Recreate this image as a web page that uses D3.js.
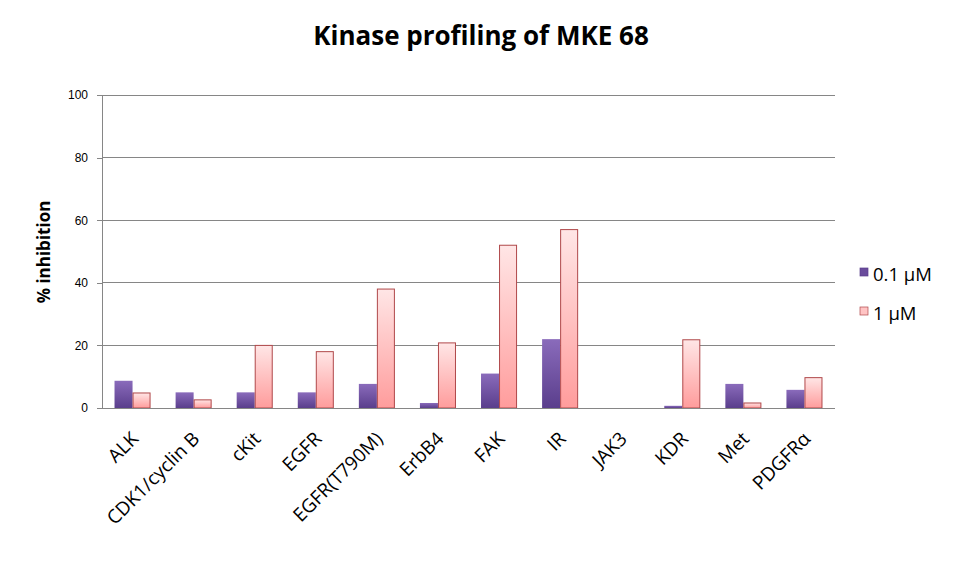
<!DOCTYPE html>
<html><head><meta charset="utf-8">
<script src="https://cdn.jsdelivr.net/npm/d3@7"></script>
<style>body{margin:0;background:#fff}svg{display:block}</style>
</head><body>
<svg id="c" width="962" height="576"></svg>
<script>
const categories = ["ALK","CDK1/cyclin B","cKit","EGFR","EGFR(T790M)","ErbB4","FAK","IR","JAK3","KDR","Met","PDGFRα"];
const series01 = [8.7, 5, 5, 5, 7.7, 1.6, 11, 22, 0, 0.7, 7.7, 5.8];
const series1 = [4.8, 2.6, 20, 18, 38, 20.8, 52, 57, 0, 21.8, 1.6, 9.7];
const seriesNames = ["0.1 μM", "1 μM"];
const yTicks = [0, 20, 40, 60, 80, 100];

const svg = d3.select("#c");
const m = {l:102, r:835, t:95, b:408};
const x = d3.scaleBand().domain(categories).range([m.l, m.r]).paddingInner(0.41).paddingOuter(0.205);
const xs = d3.scaleBand().domain([0,1]).range([0, x.bandwidth()]);
const y = d3.scaleLinear().domain([0,100]).range([m.b, m.t]);

const defs = svg.append("defs");
const g1 = defs.append("linearGradient").attr("id","gp").attr("x1",0).attr("y1",0).attr("x2",0).attr("y2",1);
g1.append("stop").attr("offset","0%").attr("stop-color","#8a6bbb");
g1.append("stop").attr("offset","100%").attr("stop-color","#5a3e8c");
const g2 = defs.append("linearGradient").attr("id","gk").attr("x1",0).attr("y1",0).attr("x2",0).attr("y2",1);
g2.append("stop").attr("offset","0%").attr("stop-color","#ffe6e6");
g2.append("stop").attr("offset","100%").attr("stop-color","#ff9c9c");

// gridlines
svg.append("g").selectAll("line").data(yTicks).join("line")
  .attr("x1", m.l).attr("x2", m.r).attr("y1", d=>y(d)).attr("y2", d=>y(d))
  .attr("stroke","#868686").attr("stroke-width",1).attr("shape-rendering","crispEdges");

// y axis
const ya = svg.append("g").attr("transform",`translate(${m.l},0)`)
  .call(d3.axisLeft(y).tickValues(yTicks).tickSize(5).tickPadding(9));
ya.select(".domain").attr("stroke","#868686").attr("shape-rendering","crispEdges");
ya.selectAll(".tick line").attr("stroke","#868686").attr("shape-rendering","crispEdges");
ya.selectAll(".tick text").attr("font-family","Liberation Sans, Arial, sans-serif").attr("font-size",12).attr("fill","#000");

// bars
const data = [series01, series1];
const fills = ["url(#gp)","url(#gk)"];
const strokes = ["none","#b0484a"];
data.forEach((s, si) => {
  svg.append("g").selectAll("rect").data(categories).join("rect")
    .attr("x", (c)=> x(c) + xs(si) + (si===1?0.5:0))
    .attr("width", xs.bandwidth() - (si===1?1:0))
    .attr("y", (c,i)=> y(s[i]))
    .attr("height", (c,i)=> y(0)-y(s[i]))
    .attr("fill", fills[si])
    .attr("stroke", strokes[si]).attr("stroke-width", 1)
    .style("display", (c,i)=> s[i] > 0 ? null : "none");
});

// x axis line
svg.append("line").attr("x1",m.l).attr("x2",m.r).attr("y1",m.b+0.5).attr("y2",m.b+0.5)
  .attr("stroke","#868686");

// x labels
svg.append("g").selectAll("text").data(categories).join("text")
  .attr("transform", c=>`translate(${x(c)+x.bandwidth()/2+7},${m.b+32}) rotate(-45)`)
  .attr("text-anchor","end")
  .attr("font-family","Open Sans, Noto Sans, sans-serif").attr("font-size",19).attr("fill","#000")
  .text(c=>c);

// title
svg.append("text").attr("x",481).attr("y",45).attr("text-anchor","middle")
  .attr("font-family","Open Sans, Noto Sans, sans-serif").attr("font-weight","bold").attr("font-size",26)
  .text("Kinase profiling of MKE 68");

// y label
svg.append("text").attr("transform","translate(50,252) rotate(-90)").attr("text-anchor","middle")
  .attr("font-family","Open Sans, Noto Sans, sans-serif").attr("font-weight","bold").attr("font-size",17)
  .text("% inhibition");

// legend
const lg = svg.append("g");
const lfill = ["#6a4c9c","#ffc4c4"];
const lstroke = ["#5a3e8c","#b0484a"];
seriesNames.forEach((n,i)=>{
  const yy = 268 + i*39;
  lg.append("rect").attr("x",860).attr("y",yy).attr("width",8).attr("height",8)
    .attr("fill",lfill[i]).attr("stroke",lstroke[i]).attr("stroke-width",0.7);
  lg.append("text").attr("x",873).attr("y",yy+13).attr("font-family","Open Sans, Noto Sans, sans-serif")
    .attr("font-size",18.5).text(n);
});
</script>
</body></html>
